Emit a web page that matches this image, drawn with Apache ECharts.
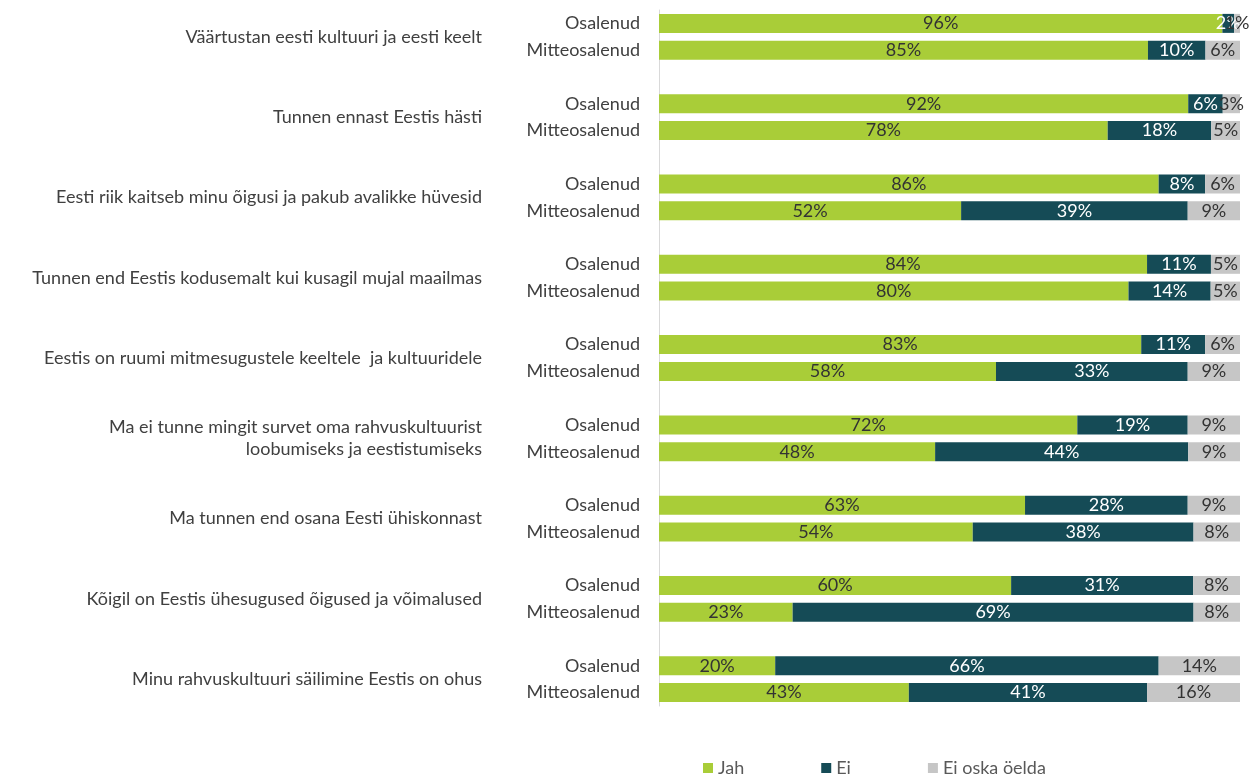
<!DOCTYPE html>
<html>
<head>
<meta charset="utf-8">
<script src="https://cdn.jsdelivr.net/npm/echarts@6/dist/echarts.min.js"></script>
<style>
html,body{margin:0;padding:0;background:#fff;}
#chart{width:1254px;height:776px;}
</style>
</head>
<body>
<div id="chart"></div>
<script>
const statements = [
  'Väärtustan eesti kultuuri ja eesti keelt',
  'Tunnen ennast Eestis hästi',
  'Eesti riik kaitseb minu õigusi ja pakub avalikke hüvesid',
  'Tunnen end Eestis kodusemalt kui kusagil mujal maailmas',
  'Eestis on ruumi mitmesugustele keeltele  ja kultuuridele',
  'Ma ei tunne mingit survet oma rahvuskultuurist\nloobumiseks ja eestistumiseks',
  'Ma tunnen end osana Eesti ühiskonnast',
  'Kõigil on Eestis ühesugused õigused ja võimalused',
  'Minu rahvuskultuuri säilimine Eestis on ohus'
];
const groups = ['Osalenud', 'Mitteosalenud'];
const seriesNames = ['Jah', 'Ei', 'Ei oska öelda'];
// values per statement: [Osalenud, Mitteosalenud]
const jahO = [96, 92, 86, 84, 83, 72, 63, 60, 20];
const eiO  = [2, 6, 8, 11, 11, 19, 28, 31, 66];
const eoO  = [1, 3, 6, 5, 6, 9, 9, 8, 14];
const jahM = [85, 78, 52, 80, 58, 48, 54, 23, 43];
const eiM  = [10, 18, 39, 14, 33, 44, 38, 69, 41];
const eoM  = [6, 5, 9, 5, 9, 9, 8, 8, 16];
const colors = ['#a9cd38', '#154b56', '#c6c6c6'];
const labelColors = ['#333333', '#ffffff', '#333333'];

// build category slots: O, M, gap (no gap after last)
const cats = [];
const raw = [[], [], []];
for (let k = 0; k < statements.length; k++) {
  cats.push(groups[0] + '|' + k);
  raw[0].push(jahO[k]); raw[1].push(eiO[k]); raw[2].push(eoO[k]);
  cats.push(groups[1] + '|' + k);
  raw[0].push(jahM[k]); raw[1].push(eiM[k]); raw[2].push(eoM[k]);
  if (k < statements.length - 1) {
    cats.push('|gap' + k);
    raw[0].push(null); raw[1].push(null); raw[2].push(null);
  }
}
const totals = raw[0].map((v, i) => v == null ? null : raw[0][i] + raw[1][i] + raw[2][i]);
// statement axis: 27 boundary positions, statement at 3k+1
const stCats = [];
for (let i = 0; i < cats.length + 1; i++) stCats.push('s' + i);
const stLabel = {};
statements.forEach((s, k) => { stLabel['s' + (3 * k + 1)] = s; });

const FONT = 'Lato, "Noto Sans", sans-serif';
const FS = 18;
const chart = echarts.init(document.getElementById('chart'));
chart.setOption({
  animation: false,
  textStyle: {fontFamily: FONT},
  grid: {left: 659, right: 14, top: 10, height: 696, containLabel: false},
  legend: {
    left: 703, top: 759, padding: 0, itemWidth: 10, itemHeight: 10, itemGap: 77, icon: 'rect',
    textStyle: {fontSize: FS, color: '#595959', fontFamily: FONT},
    data: seriesNames
  },
  xAxis: {type: 'value', min: 0, max: 100, show: false},
  yAxis: [{
    type: 'category', inverse: true, data: cats,
    axisLine: {show: true, lineStyle: {color: '#d9d9d9', width: 1}},
    axisTick: {show: false},
    axisLabel: {
      interval: 0, margin: 19, fontSize: FS, color: '#404040', fontFamily: FONT,
      formatter: v => v.split('|')[0]
    }
  }, {
    type: 'category', inverse: true, position: 'left', offset: 169, boundaryGap: false,
    data: stCats,
    axisLine: {show: false}, axisTick: {show: false},
    axisLabel: {
      interval: 0, margin: 8, fontSize: FS, color: '#404040', lineHeight: 22, fontFamily: FONT,
      align: 'right',
      formatter: v => stLabel[v] || ''
    }
  }],
  series: seriesNames.map((name, s) => ({
    name: name, type: 'bar', stack: 'total', barWidth: 19, yAxisIndex: 0,
    itemStyle: {color: colors[s]},
    label: {
      show: true, position: 'inside', fontSize: FS, color: labelColors[s], fontFamily: FONT,
      formatter: p => raw[s][p.dataIndex] + '%'
    },
    data: raw[s].map((v, i) => v == null ? '-' : v / totals[i] * 100)
  }))
});
</script>
</body>
</html>
